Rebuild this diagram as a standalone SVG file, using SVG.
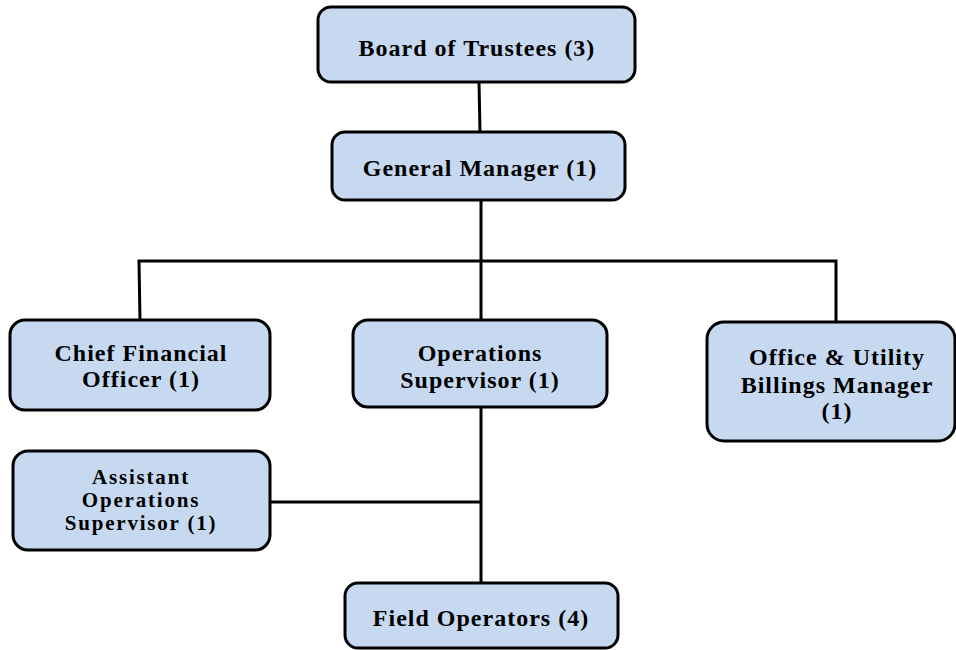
<svg xmlns="http://www.w3.org/2000/svg" width="956" height="650" viewBox="0 0 956 650">
<style>
.box{fill:#c6d9f1;stroke:#000;stroke-width:3}
.lbl{font-family:"Liberation Serif","Times New Roman",serif;font-weight:bold;font-size:24px;letter-spacing:1px;fill:#000;text-anchor:middle}
.sm{font-size:21px;letter-spacing:1.8px}
.con{fill:none;stroke:#000;stroke-width:3}
</style>
<rect width="956" height="650" fill="#fff"/>
<g id="connectors">
<line class="con" x1="479" y1="82" x2="480" y2="132"/>
<line class="con" x1="481" y1="200" x2="481" y2="321"/>
<polyline class="con" points="140,320 139,261 836,261 836,322"/>
<line class="con" x1="481" y1="407" x2="481" y2="583"/>
<line class="con" x1="270" y1="502" x2="481" y2="502"/>
</g>
<g id="board">
<rect class="box" x="318" y="7" width="317" height="75" rx="13"/>
<text class="lbl" x="477" y="56">Board of Trustees (3)</text>
</g>
<g id="gm">
<rect class="box" x="332" y="132" width="293" height="68" rx="13"/>
<text class="lbl" x="480" y="176">General Manager (1)</text>
</g>
<g id="cfo">
<rect class="box" x="10" y="320" width="260" height="90" rx="15"/>
<text class="lbl" x="141" y="361">Chief Financial</text>
<text class="lbl" x="141" y="387">Officer (1)</text>
</g>
<g id="ops">
<rect class="box" x="353" y="320" width="254" height="87" rx="15"/>
<text class="lbl" x="480" y="361">Operations</text>
<text class="lbl" x="480" y="388">Supervisor (1)</text>
</g>
<g id="office">
<rect class="box" x="707" y="322" width="248" height="119" rx="17"/>
<text class="lbl" x="837" y="365">Office &amp; Utility</text>
<text class="lbl" x="837" y="393">Billings Manager</text>
<text class="lbl" x="837" y="419">(1)</text>
</g>
<g id="asst">
<rect class="box" x="13" y="451" width="257" height="99" rx="15"/>
<text class="lbl sm" x="141" y="484">Assistant</text>
<text class="lbl sm" x="141" y="507">Operations</text>
<text class="lbl sm" x="141" y="530">Supervisor (1)</text>
</g>
<g id="field">
<rect class="box" x="345" y="583" width="273" height="65" rx="13"/>
<text class="lbl" x="481" y="626">Field Operators (4)</text>
</g>
</svg>
